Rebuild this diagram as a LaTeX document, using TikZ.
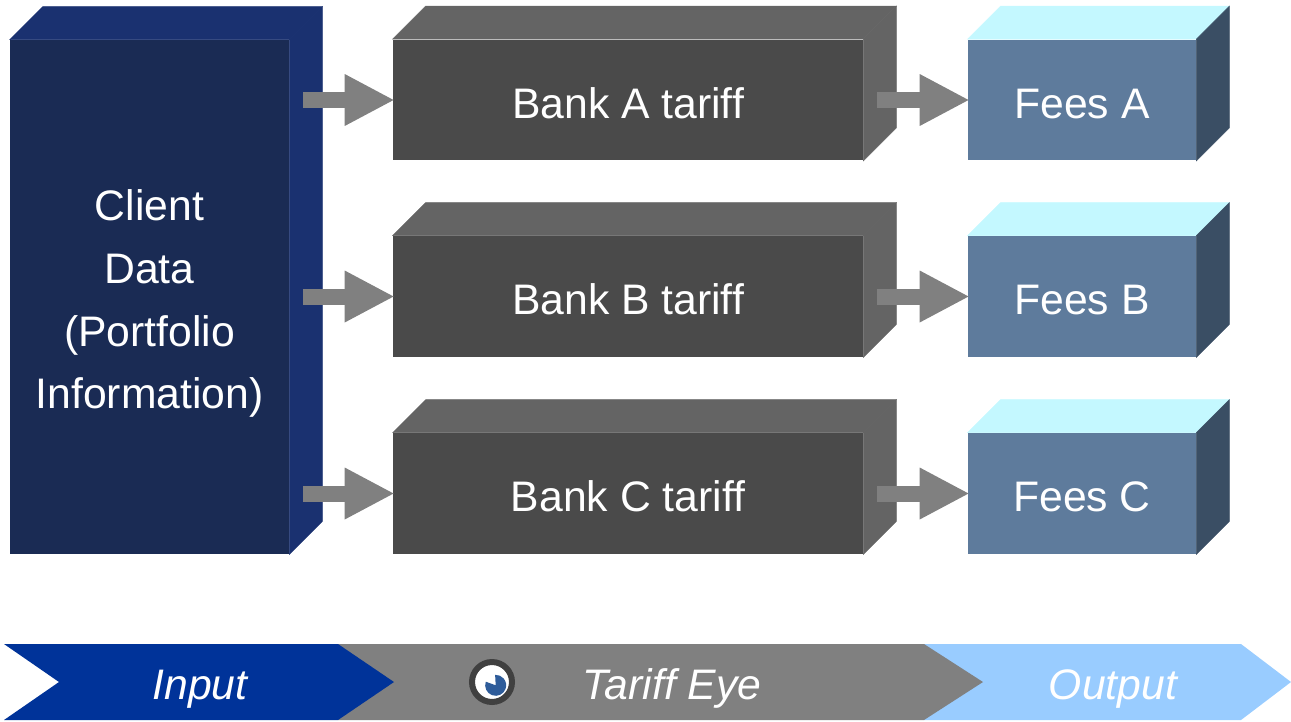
\documentclass[tikz,border=0pt]{standalone}
\usepackage{fontspec}
\setmainfont{Liberation Sans}
\usepackage{tikz}
\usetikzlibrary{arrows.meta, backgrounds}
\definecolor{clientfront}{HTML}{1A2B54}
\definecolor{clientside}{HTML}{1A3170}
\definecolor{bankfront}{HTML}{4A4A4A}
\definecolor{bankside}{HTML}{646464}
\definecolor{feesfront}{HTML}{5E7B9C}
\definecolor{feestop}{HTML}{C4F8FF}
\definecolor{feesside}{HTML}{3A4E64}
\definecolor{inputband}{HTML}{003399}
\definecolor{eyeband}{HTML}{808080}
\definecolor{outputband}{HTML}{99CCFF}
\definecolor{eyering}{HTML}{404040}
\definecolor{eyeblue}{HTML}{2E5C9A}
\tikzset{face/.style={rectangle, inner sep=0pt, text=white, font=\fontsize{24.3}{35.6}\selectfont},
  bankface/.style={face, fill=bankfront, minimum width=9.4cm, minimum height=2.42cm, text height=0.72cm, text depth=0pt},
  feesface/.style={face, fill=feesfront, minimum width=4.56cm, minimum height=2.42cm, text height=0.72cm, text depth=0pt},
  bandlabel/.style={inner sep=0pt, text=white, font=\fontsize{24.3}{28}\selectfont\itshape, text height=0.72cm, text depth=0pt},
  flow/.style={line width=0.32cm, eyeband, shorten >=-0.04cm, -{Triangle[length=1cm, width=0.96cm]}}}
\begin{document}
\begin{tikzpicture}[x=0.02cm, y=-0.02cm]
      \def\depth{33}
      \useasboundingbox (0,0) rectangle (1291,721);
      \node [face, fill=clientfront, minimum width=5.58cm, minimum height=10.28cm] (client) at (149.5,297) {};
      \node [face, align=center] (clienttext) at (149.5,303.7) {Client\\Data\\(Portfolio\\Information)};
      \node [bankface] (bankA) at (628,100) {Bank A tariff};
      \node [bankface] (bankB) at (628,296.5) {Bank B tariff};
      \node [bankface] (bankC) at (628,493.5) {Bank C tariff};
      \node [feesface] (feesA) at (1082,100) {Fees A};
      \node [feesface] (feesB) at (1082,296.5) {Fees B};
      \node [feesface] (feesC) at (1082,493.5) {Fees C};
      \begin{scope}[on background layer]
        \foreach \n/\topcol/\sidecol in {client/clientside/clientside, bankA/bankside/bankside, bankB/bankside/bankside, bankC/bankside/bankside, feesA/feestop/feesside, feesB/feestop/feesside, feesC/feestop/feesside} {
          \filldraw [\topcol, line width=0.3pt] (\n.north west) -- ([shift={(\depth,-\depth)}]\n.north west) -- ([shift={(\depth,-\depth)}]\n.north east) -- (\n.north east) -- cycle;
          \filldraw [\sidecol, line width=0.3pt] (\n.north east) -- ([shift={(\depth,-\depth)}]\n.north east) -- ([shift={(\depth,-\depth)}]\n.south east) -- (\n.south east) -- cycle;
        }
      \end{scope}
      \foreach \x/\y in {A/100,B/296.5,C/493.5} {
        \coordinate (from\x) at (303,\y);
        \coordinate (via\x) at (877,\y);
        \draw [flow] (from\x) -- (bank\x.west);
        \draw [flow] (via\x) -- (fees\x.west);
      }
      % bottom band, last one first
      \fill [outputband] (924,644) -- (1241,644) -- (1291,682) -- (1241,720) -- (924,720) -- cycle;
      \fill [eyeband] (338,644) -- (924,644) -- (983,682) -- (924,720) -- (338,720) -- cycle;
      \fill [inputband] (4,644) -- (338,644) -- (394,682) -- (338,720) -- (4,720) -- (59,682) -- cycle;
      \node [bandlabel] (input) at (200,681) {Input};
      \node [bandlabel] (tariffeye) at (672,681) {Tariff Eye};
      \node [bandlabel] (output) at (1113,681) {Output};
      \node [circle, fill=white, draw=eyering, line width=0.12cm, minimum size=0.8cm, inner sep=0pt] (eye) at (492,682) {};
      \fill [eyeblue] (495.7,685.3) -- ++(-9.9,-3.6) arc [start angle=160, end angle=453, radius=0.21cm] -- cycle;
    \end{tikzpicture}
\end{document}
